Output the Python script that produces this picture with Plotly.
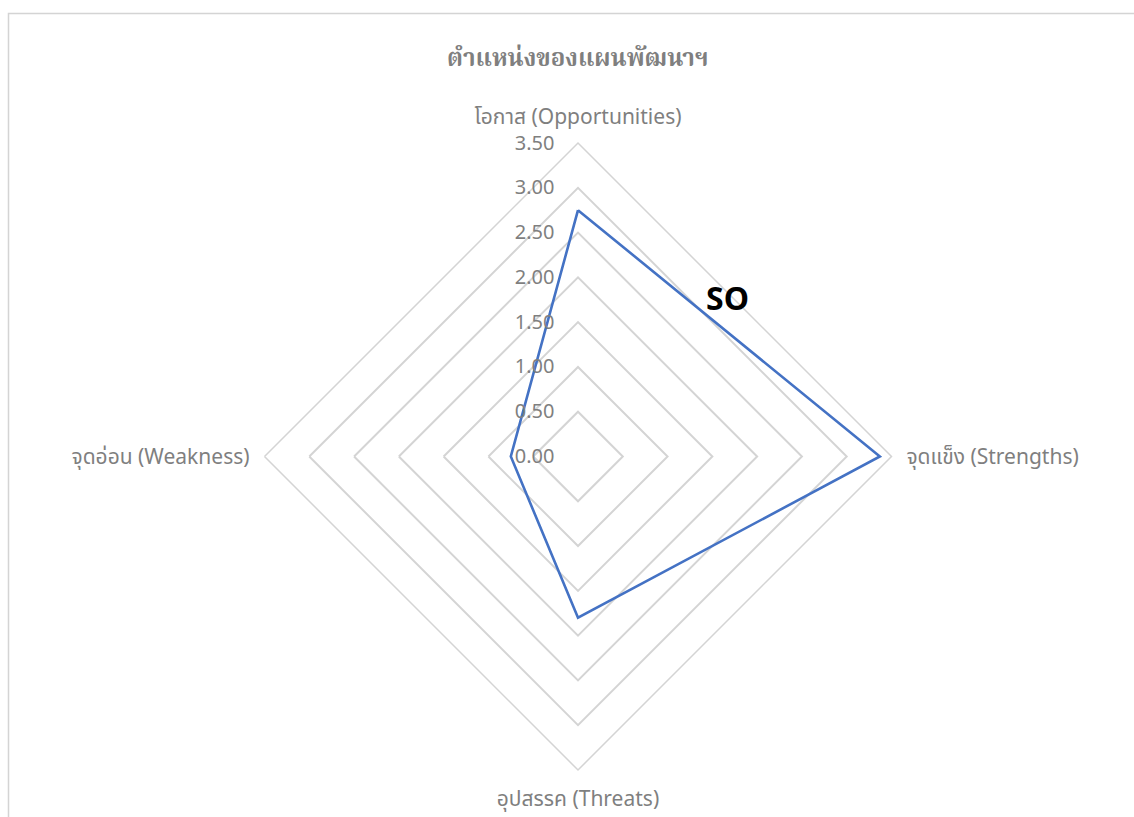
import plotly.graph_objects as go

categories = ["โอกาส (Opportunities)", "จุดแข็ง (Strengths)", "อุปสรรค (Threats)", "จุดอ่อน (Weakness)"]
values = [2.75, 3.37, 1.80, 0.75]
tick_vals = [0, 0.5, 1.0, 1.5, 2.0, 2.5, 3.0, 3.5]
tick_text = ["0.00", "0.50", "1.00", "1.50", "2.00", "2.50", "3.00", "3.50"]
title_text = "ตำแหน่งของแผนพัฒนาฯ"
quadrant_label = "SO"

W, H = 1134, 817
cx, cy, R = 578, 456.5, 313.5

FONT = "Noto Sans, Noto Sans Thai, Loma, Garuda, sans-serif"
GRAY = "#7f7f7f"
GRID = "#d4d4d4"

fig = go.Figure()
fig.add_trace(go.Scatterpolar(
    r=values + values[:1],
    theta=categories + categories[:1],
    mode="lines",
    line=dict(color="#4472C4", width=2.6),
    showlegend=False,
    hoverinfo="skip",
))

fig.update_layout(
    width=W, height=H,
    margin=dict(l=0, r=0, t=0, b=0),
    paper_bgcolor="white",
    plot_bgcolor="white",
    font=dict(family=FONT, color=GRAY, size=20),
    polar=dict(
        bgcolor="white",
        gridshape="linear",
        domain=dict(x=[(cx - R) / W, (cx + R) / W],
                    y=[(H - cy - R) / H, (H - cy + R) / H]),
        radialaxis=dict(
            range=[0, 3.5],
            tickvals=tick_vals,
            ticktext=tick_text,
            angle=90,
            tickangle=90,
            side="counterclockwise",
            showline=False,
            ticks="outside",
            ticklen=16,
            tickcolor="rgba(0,0,0,0)",
            gridcolor=GRID,
            gridwidth=1.5,
            tickfont=dict(family=FONT, color=GRAY, size=20),
        ),
        angularaxis=dict(
            rotation=90,
            direction="clockwise",
            showgrid=False,
            showline=True,
            linecolor=GRID,
            linewidth=1.5,
            ticks="outside",
            ticklen=10,
            tickcolor="rgba(0,0,0,0)",
            tickfont=dict(family=FONT, color=GRAY, size=21),
        ),
    ),
    annotations=[
        dict(text=f"<b>{title_text}</b>", x=cx / W, y=1 - 60 / H, xref="paper", yref="paper",
             showarrow=False, font=dict(family="Noto Serif Thai, Noto Serif, DejaVu Serif, serif", size=24, color=GRAY),
             xanchor="center", yanchor="middle"),
        dict(text=f"<b>{quadrant_label}</b>", x=727 / W, y=1 - 297 / H, xref="paper", yref="paper",
             showarrow=False, font=dict(family=FONT, size=32, color="black"),
             xanchor="center", yanchor="middle"),
    ],
    shapes=[
        dict(type="rect", xref="paper", yref="paper",
             x0=8.5 / W, y0=-0.05, x1=1.05, y1=1 - 13.5 / H,
             line=dict(color=GRID, width=1.5), fillcolor="rgba(0,0,0,0)", layer="below"),
    ],
)

fig.write_html("out.html", config={"displayModeBar": False},
               post_script="document.body.style.margin='0px';")
